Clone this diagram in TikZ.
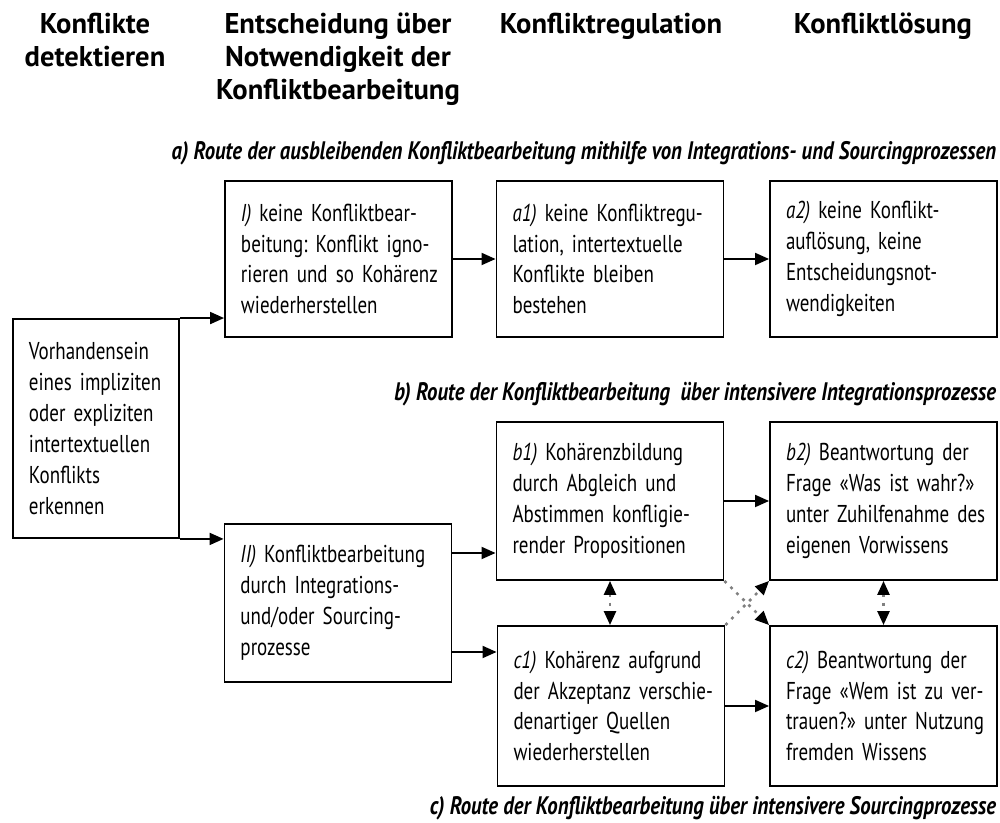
\documentclass[tikz,border=0pt]{standalone}
\usepackage{fontspec}
\setmainfont{PT Sans}
\newfontfamily\schmal[FakeStretch=0.78]{PT Sans}
\newfontfamily\routenschrift[FakeStretch=0.82]{PT Sans}
\newcommand\feldschrift{\schmal\fontsize{10.4}{13.2}\selectfont\frenchspacing\spaceskip=0.2em plus 0.05em\relax\hyphenpenalty=10000\relax}
\usetikzlibrary{arrows.meta}

\begin{document}
\begin{tikzpicture}[
       x=0.015cm, y=0.015cm,
       thick,
       feld/.style={
         draw,
         thick,
         align=left,
         text width=3.405cm,
         minimum height=2.37cm,
         inner sep=0pt,
         font=\feldschrift,
         execute at begin node={\leftskip=0.24cm\relax}
       },
       kopf/.style={
         anchor=north,
         align=center,
         inner sep=0pt,
         font=\bfseries\fontsize{12.2}{14}\selectfont
       },
       route/.style={
         anchor=east,
         inner sep=0pt,
         font=\routenschrift\bfseries\itshape\fontsize{10.8}{12}\selectfont
       },
       pfeil/.style={-{Triangle[length=2.1mm,width=1.8mm]}},
       punkte/.style={dash pattern=on 1.2pt off 2.4pt, draw=black!50, line width=1.1pt},
       doppel/.style={{Triangle[length=2.1mm,width=1.8mm,color=black]}-{Triangle[length=2.1mm,width=1.8mm,color=black]}},
       spitze/.style={-{Triangle[length=2.1mm,width=1.8mm,color=black]}}
     ]

       \useasboundingbox (0,0) rectangle (1000,823);

       % Spaltenkoepfe
       \node (k1) at (95,811) [kopf]{Konflikte\\detektieren};
       \node (k2) at (338,811) [kopf]{Entscheidung über\\Notwendigkeit der\\Konfliktbearbeitung};
       \node (k3) at (611,811) [kopf]{Konfliktregulation};
       \node (k4) at (883,811) [kopf]{Konfliktlösung};

       % Routen
       \node (ra) at (997,670) [route]{a) Route der ausbleibenden Konfliktbearbeitung mithilfe von Integrations- und Sourcingprozessen};
       \node (rb) at (997,429) [route]{b) Route der Konfliktbearbeitung \ über intensivere Integrationsprozesse};
       \node (rc) at (997,15) [route]{c) Route der Konfliktbearbeitung über intensivere Sourcingprozesse};

       % Kaesten
       \node (L) at (96,394.5) [feld,text width=2.49cm,minimum height=3.285cm]{Vorhandensein\\eines impliziten\\oder expliziten\\intertextuellen\\Konflikts\\erkennen};
       \node (I) at (338.5,564) [feld,minimum height=2.34cm]{\textit{I)} keine Konfliktbear-\\beitung: Konflikt igno-\\rieren und so Kohärenz\\wiederherstellen};
       \node (a1) at (610,564) [feld,minimum height=2.34cm]{\textit{a1)} keine Konfliktregu-\\lation, intertextuelle\\Konflikte bleiben\\bestehen};
       \node (a2) at (883.5,564) [feld,minimum height=2.34cm]{\textit{a2)} keine Konflikt-\\auflösung, keine\\Entscheidungsnot-\\wendigkeiten};
       \node (II) at (338,220) [feld]{\textit{II)} Konfliktbearbeitung\\durch Integrations-\\und/oder Sourcing-\\prozesse};
       \node (b1) at (610,322) [feld]{\textit{b1)} Kohärenzbildung\\durch Abgleich und\\Abstimmen konfligie-\\render Propositionen};
       \node (b2) at (883.5,322) [feld]{\textit{b2)} Beantwortung der\\Frage «Was ist wahr?»\\unter Zuhilfenahme des\\eigenen Vorwissens};
       \node (c1) at (611,117) [feld,minimum height=2.4cm]{\textit{c1)} Kohärenz aufgrund\\der Akzeptanz verschie-\\denartiger Quellen\\wiederherstellen};
       \node (c2) at (883.5,117) [feld,minimum height=2.4cm]{\textit{c2)} Beantwortung der\\Frage «Wem ist zu ver-\\trauen?» unter Nutzung\\fremden Wissens};

       % Pfeile
       \draw[pfeil] (L.north east) -- (L.north east -| I.west);
       \draw[pfeil] (L.south east) -- (L.south east -| II.west);
       \draw[pfeil] (I) -- (a1);
       \draw[pfeil] (a1) -- (a2);
       \draw[pfeil] ([yshift=0.75cm]II.east) coordinate (p1) -- (p1 -| b1.west);
       \draw[pfeil] ([yshift=-0.735cm]II.east) coordinate (p2) -- (p2 -| c1.west);
       \draw[pfeil] (b1) -- (b2);
       \draw[pfeil] (c1.east |- c2.west) -- (c2.west);

       % gepunktete Verbindungen
       \draw[punkte,doppel] (b1.south) -- (b1.south |- c1.north);
       \draw[punkte,doppel] (b2.south) -- (c2.north);
       \draw[punkte,spitze] (b1.south east) -- (c2.north west);
       \draw[punkte,spitze] (c1.north east) -- (b2.south west);

\end{tikzpicture}
\end{document}
